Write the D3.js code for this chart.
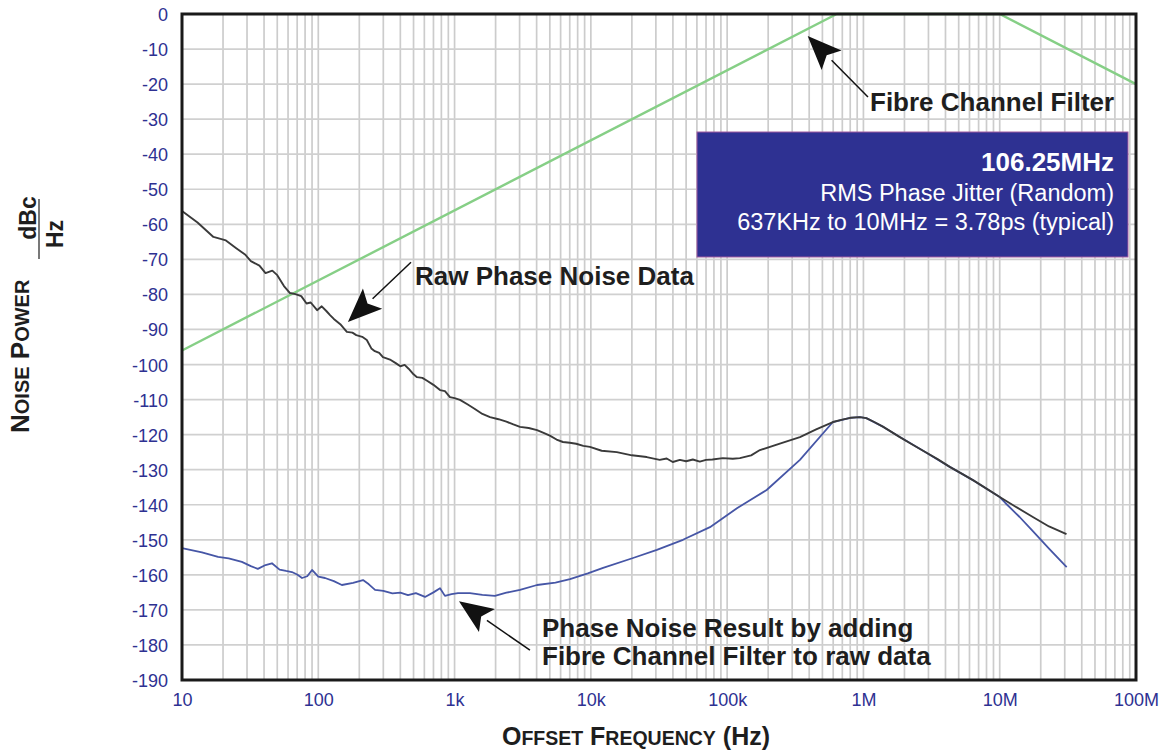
<!DOCTYPE html>
<html>
<head>
<meta charset="utf-8">
<script src="https://cdn.jsdelivr.net/npm/d3@7"></script>
<style>
   body { margin: 0; background: #fff; }
   svg { font-family: "Liberation Sans", Arial, Helvetica, sans-serif; }
</style>
</head>
<body>
<svg id="chart" width="1165" height="753"></svg>
<script>
// tick values / labels
var freqTicks = [10, 100, 1e3, 1e4, 1e5, 1e6, 1e7, 1e8];
var freqLabels = ["10", "100", "1k", "10k", "100k", "1M", "10M", "100M"];
var dbTicks = d3.range(0, -191, -10);

// Fibre Channel filter mask (Hz, dBc/Hz)
var filterFreq = [10, 637e3, 10e6, 100e6];
var filterDb = [-96, 0, 0, -20];

// raw phase noise
var rawFreq = [10, 13, 17, 21, 25, 29, 32, 37, 41, 46, 50, 56, 62, 68, 75, 82, 88, 98, 106, 115, 122, 130, 145, 162, 178, 190, 210, 227, 245, 260, 280, 298, 340, 370, 400, 430, 460, 500, 530, 580, 620, 700, 782, 850, 925, 1000, 1096,
   1250, 1400, 1600, 1820, 2100, 2400, 2700, 3020, 3500, 4027, 4500, 5000, 5600, 6240, 7000, 7800, 8800, 9840, 12e3, 15.5e3, 20e3, 25.7e3, 32e3, 36e3, 39.9e3, 45e3, 50e3, 56e3, 63e3, 70e3, 78e3, 93e3, 110e3, 124e3, 150e3, 174e3, 250e3,
   342e3, 450e3, 597e3, 700e3, 800e3, 942e3, 1.05e6, 1.2e6, 1.4e6, 1.85e6, 2.3e6, 2.8e6, 3.5e6, 4.3e6, 5.3e6, 6.5e6, 8e6, 10e6, 13e6, 17.5e6, 23e6, 30.9e6];
var rawDb = [-56.2, -59.5, -63.6, -64.6, -66.8, -68.6, -70.5, -71.8, -73.9, -73.2, -74.5, -77.6, -79.6, -79.9, -80.5, -82.6, -82.3, -84.5, -83.4, -84.8, -85.9, -87, -88.5, -90.7, -90.9, -91.6, -92.1, -93, -95.4, -96.2, -96.7, -97.9, -98.7, -99.6, -100.5, -100.1, -101.2, -102.8, -103.6, -103.8, -104.5, -105.8, -107.3, -107.6, -109.3, -109.6, -110.1,
   -111.4, -112.6, -114.1, -115, -115.6, -116.3, -117.1, -117.8, -118.1, -118.7, -119.5, -120.3, -121.4, -122.1, -122.3, -122.6, -123.2, -123.5, -124.6, -125, -125.9, -126.4, -127.2, -126.8, -127.8, -127.2, -127.6, -127.1, -127.7, -127.2, -127.1, -126.7, -126.9, -126.7, -125.9, -124.4, -122.4,
   -120.7, -118.5, -116.4, -115.7, -115.2, -115, -115.3, -116.4, -117.8, -120.7, -122.9, -124.8, -127, -129.2, -131.2, -133.2, -135.4, -137.8, -140.5, -143.5, -146.2, -148.4];

// result with filter applied
var resFreq = [10, 14, 18.4, 22, 27.5, 32, 36, 41, 45.7, 52, 58, 64, 70, 76, 83, 90, 100, 112, 130, 149, 180, 213, 235, 261, 300, 350, 400, 455, 520, 607, 700, 782, 850, 950, 1060, 1297,
   1600, 1977, 2400, 3020, 4027, 5500, 7030, 9500, 12.3e3, 20.4e3, 30.5e3, 47.4e3, 74.8e3, 118e3, 147e3, 195e3, 342e3, 597e3, 800e3, 942e3, 1.05e6, 1.4e6, 1.85e6,
   2.8e6, 4.3e6, 6.5e6, 10e6, 11e6, 14e6, 17.5e6, 23e6, 31e6];
var resDb = [-152.4, -153.6, -154.9, -155.3, -156.3, -157.5, -158.3, -157.2, -156.7, -158.5, -158.9, -159.2, -159.9, -160.9, -160.4, -158.6, -160.5, -160.9, -161.8, -162.9, -162.3, -161.5, -162.7, -164.3, -164.6, -165.3, -165.1, -165.8, -165.2, -166.3, -165, -163.8, -166, -165.5, -165.2, -165.2,
   -165.7, -166, -165.1, -164.3, -162.9, -162.2, -161.2, -159.6, -158, -155.2, -152.9, -150, -146.4, -141, -138.7, -135.8, -127.2, -116.4, -115.2, -115, -115.3, -117.8, -120.7,
   -124.8, -129.2, -133.2, -137.8, -139.5, -143.5, -147.5, -152.5, -157.8];

var blue = "#2e3192";
var ink = "#1e1e1e";

var svg = d3.select("#chart");
var x = d3.scaleLog().domain([10, 1e8]).range([182, 1136]);
var y = d3.scaleLinear().domain([-190, 0]).range([680, 14]);

// grid
var minor = [];
for (var dec = 10; dec < 1e8; dec *= 10)
   for (var k = 1; k < 10; k++) minor.push(dec * k);

svg.append("g").selectAll("line").data(minor).enter().append("line")
   .attr("x1", function(d) { return x(d); }).attr("x2", function(d) { return x(d); })
   .attr("y1", y(0)).attr("y2", y(-190))
   .attr("stroke", "#cccccc").attr("stroke-width", 1.7);

svg.append("g").selectAll("line").data(dbTicks).enter().append("line")
   .attr("x1", x(10)).attr("x2", x(1e8))
   .attr("y1", function(d) { return y(d); }).attr("y2", function(d) { return y(d); })
   .attr("stroke", "#d0d0d0").attr("stroke-width", 1.7);

// curves
var line = d3.line().x(function(d) { return x(d[0]); }).y(function(d) { return y(d[1]); });

function series(f, v, color, w) {
   svg.append("path").datum(d3.zip(f, v))
      .attr("d", line).attr("fill", "none")
      .attr("stroke", color).attr("stroke-width", w)
      .attr("stroke-linejoin", "round");
}
series(filterFreq, filterDb, "#86cf86", 2.4);
series(resFreq, resDb, "#4656a6", 1.8);
series(rawFreq, rawDb, "#3a3a3a", 1.9);

// frame
svg.append("rect").attr("x", x(10)).attr("y", y(0))
   .attr("width", x(1e8) - x(10)).attr("height", y(-190) - y(0))
   .attr("fill", "none").attr("stroke", "#1a1a1a").attr("stroke-width", 3);

// axes
var yAxis = svg.append("g").attr("transform", "translate(" + x(10) + ",0)")
   .call(d3.axisLeft(y).tickValues(dbTicks).tickSize(0).tickPadding(14)
      .tickFormat(function(d) { return String(d); }));
var xAxis = svg.append("g").attr("transform", "translate(0," + y(-190) + ")")
   .call(d3.axisBottom(x).tickValues(freqTicks).tickSize(0).tickPadding(13)
      .tickFormat(function(d, i) { return freqLabels[i]; }));
[yAxis, xAxis].forEach(function(a) {
   a.select(".domain").remove();
   a.selectAll("text").attr("fill", blue).style("font-size", "18px")
      .style("font-family", "'Liberation Sans', Arial, sans-serif");
});
yAxis.selectAll("text").attr("dy", ".36em");

// small-caps titles built from tspans
function capsTitle(g, parts, big, small) {
   var t = g.append("text").style("font-weight", "bold").attr("fill", ink);
   parts.forEach(function(p) {
      t.append("tspan").style("font-size", (p[1] ? big : small) + "px").text(p[0]);
   });
   return t;
}

capsTitle(svg, [["O", 1], ["FFSET", 0], [" F", 1], ["REQUENCY", 0], [" (Hz)", 1]], 25, 19.5)
   .attr("x", 636).attr("y", 745).attr("text-anchor", "middle");

var yt = svg.append("g").attr("transform", "translate(29,433) rotate(-90)");
capsTitle(yt, [["N", 1], ["OISE", 0], [" P", 1], ["OWER", 0]], 26, 20).attr("x", 0).attr("y", 0);
yt.append("text").attr("x", 215).attr("y", 7).attr("text-anchor", "middle")
   .style("font-size", "23px").style("font-weight", "bold").attr("fill", ink).text("dBc");
yt.append("line").attr("x1", 174).attr("x2", 234).attr("y1", 10).attr("y2", 10)
   .attr("stroke", ink).attr("stroke-width", 1.2);
yt.append("text").attr("x", 199).attr("y", 34).attr("text-anchor", "middle")
   .style("font-size", "23px").style("font-weight", "bold").attr("fill", ink).text("Hz");

// annotations
function arrow(from, to) {
   var x0 = x(from[0]), y0 = y(from[1]), x1 = x(to[0]), y1 = y(to[1]);
   var a = Math.atan2(y1 - y0, x1 - x0), len = 34, half = 14;
   var bx = x1 - len * Math.cos(a), by = y1 - len * Math.sin(a);
   svg.append("line").attr("x1", x0).attr("y1", y0).attr("x2", bx).attr("y2", by)
      .attr("stroke", "#111").attr("stroke-width", 1.5);
   svg.append("path")
      .attr("d", "M" + x1 + "," + y1 +
         "L" + (bx + half * Math.sin(a)) + "," + (by - half * Math.cos(a)) +
         "L" + (bx + 7 * Math.cos(a)) + "," + (by + 7 * Math.sin(a)) +
         "L" + (bx - half * Math.sin(a)) + "," + (by + half * Math.cos(a)) + "Z")
      .attr("fill", "#111");
}

function note(tx, ty, lines, size) {
   lines.forEach(function(s, i) {
      svg.append("text").attr("x", tx).attr("y", ty + i * 28)
         .style("font-size", size + "px").style("font-weight", "bold").attr("fill", ink).text(s);
   });
}

arrow([1.08e6, -23.7], [3.9e5, -6.3]);
note(870, 111, ["Fibre Channel Filter"], 26);

arrow([479, -70.8], [165, -87.9]);
note(415, 285, ["Raw Phase Noise Data"], 26);

arrow([3573, -181.5], [1077, -167.5]);
note(542, 637, ["Phase Noise Result by adding", "Fibre Channel Filter to raw data"], 26);

// info box
svg.append("rect").attr("x", 697).attr("y", 132).attr("width", 431).attr("height", 125)
   .attr("fill", blue).attr("stroke", "#a05aa0").attr("stroke-width", 1);
var info = [["106.25MHz", "bold", 26, 171], ["RMS Phase Jitter (Random)", "normal", 23.5, 201], ["637KHz to 10MHz = 3.78ps (typical)", "normal", 23.5, 230]];
info.forEach(function(d) {
   svg.append("text").attr("x", 1114).attr("y", d[3]).attr("text-anchor", "end")
      .style("font-size", d[2] + "px").style("font-weight", d[1]).attr("fill", "#fff").text(d[0]);
});
</script>
</body>
</html>
